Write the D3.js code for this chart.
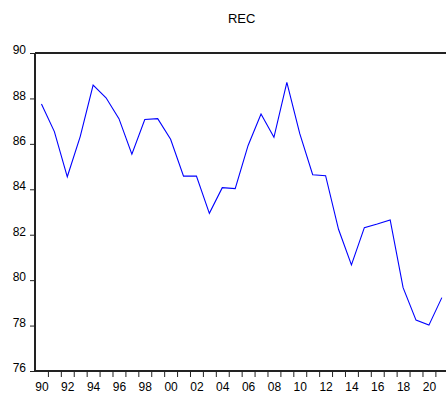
<!DOCTYPE html>
<html>
<head>
<meta charset="utf-8">
<script src="https://cdn.jsdelivr.net/npm/d3@7"></script>
<style>
html,body{margin:0;padding:0;background:#fff;overflow:hidden;}
svg{display:block;}
text{font-family:"Liberation Sans",Arial,sans-serif;}
</style>
</head>
<body>
<script>
const title = "REC";
const years = [1990,1991,1992,1993,1994,1995,1996,1997,1998,1999,2000,2001,2002,2003,2004,2005,2006,2007,2008,2009,2010,2011,2012,2013,2014,2015,2016,2017,2018,2019,2020,2021];
const rec = [87.75,86.54,84.55,86.32,88.59,88.03,87.11,85.55,87.07,87.11,86.20,84.58,84.58,82.94,84.07,84.03,85.93,87.31,86.29,88.71,86.45,84.64,84.60,82.24,80.67,82.31,82.47,82.65,79.67,78.24,78.02,79.23];
const yTicks = [76,78,80,82,84,86,88,90];
const xLabelYears = [1990,1992,1994,1996,1998,2000,2002,2004,2006,2008,2010,2012,2014,2016,2018,2020];

const W = 446, H = 394;
const mLeft = 35, mTop = 53, mRight = 448.3, mBottom = 371;

const svg = d3.select("body").append("svg").attr("width", W).attr("height", H);

const x = d3.scaleLinear().domain([years[0]-0.5, years[years.length-1]+0.5]).range([mLeft, mRight]);
const y = d3.scaleLinear().domain([76, 90]).range([mBottom, mTop]);

// title
svg.append("text").attr("x", (mLeft+mRight)/2).attr("y", 23).attr("text-anchor","middle")
  .attr("font-size", 13).attr("fill", "#000").text(title);

// top border
svg.append("line").attr("x1", mLeft).attr("x2", mRight).attr("y1", mTop).attr("y2", mTop)
  .attr("stroke", "#222").attr("stroke-width", 2);

// y axis
const yAxis = svg.append("g").attr("transform", `translate(${mLeft},0)`)
  .call(d3.axisLeft(y).tickValues(yTicks).tickSize(5).tickPadding(4).tickFormat(d3.format("d")));
yAxis.select(".domain").attr("stroke", "#222").attr("stroke-width", 2)
  .attr("d", `M0,${mTop}V${mBottom}`);
yAxis.selectAll(".tick line").attr("stroke", "#222");
yAxis.selectAll(".tick text").attr("font-size", 12).attr("fill", "#000").attr("dy", "0.05em")
  .attr("font-family", "Liberation Sans, Arial, sans-serif");

// x axis ticks at year boundaries
const boundaries = years.slice(0, -1).map(d => d + 0.5);
const xAxis = svg.append("g").attr("transform", `translate(0,${mBottom})`)
  .call(d3.axisBottom(x).tickValues(boundaries).tickSize(6).tickFormat(""));
xAxis.select(".domain").attr("stroke", "#222").attr("stroke-width", 2)
  .attr("d", `M${mLeft},0H${mRight}`);
xAxis.selectAll(".tick line").attr("stroke", "#222");

// x labels at year centres
const xLab = svg.append("g").attr("transform", `translate(0,${mBottom})`)
  .call(d3.axisBottom(x).tickValues(xLabelYears).tickSize(0).tickPadding(11)
    .tickFormat(d => String(d % 100).padStart(2, "0")));
xLab.select(".domain").remove();
xLab.selectAll(".tick text").attr("font-size", 12).attr("fill", "#000")
  .attr("font-family", "Liberation Sans, Arial, sans-serif");

// line
const line = d3.line().x((d,i) => x(years[i])).y(d => y(d));
svg.append("path").datum(rec).attr("d", line).attr("fill", "none")
  .attr("stroke", "#0000ff").attr("stroke-width", 1.1);
</script>
</body>
</html>
